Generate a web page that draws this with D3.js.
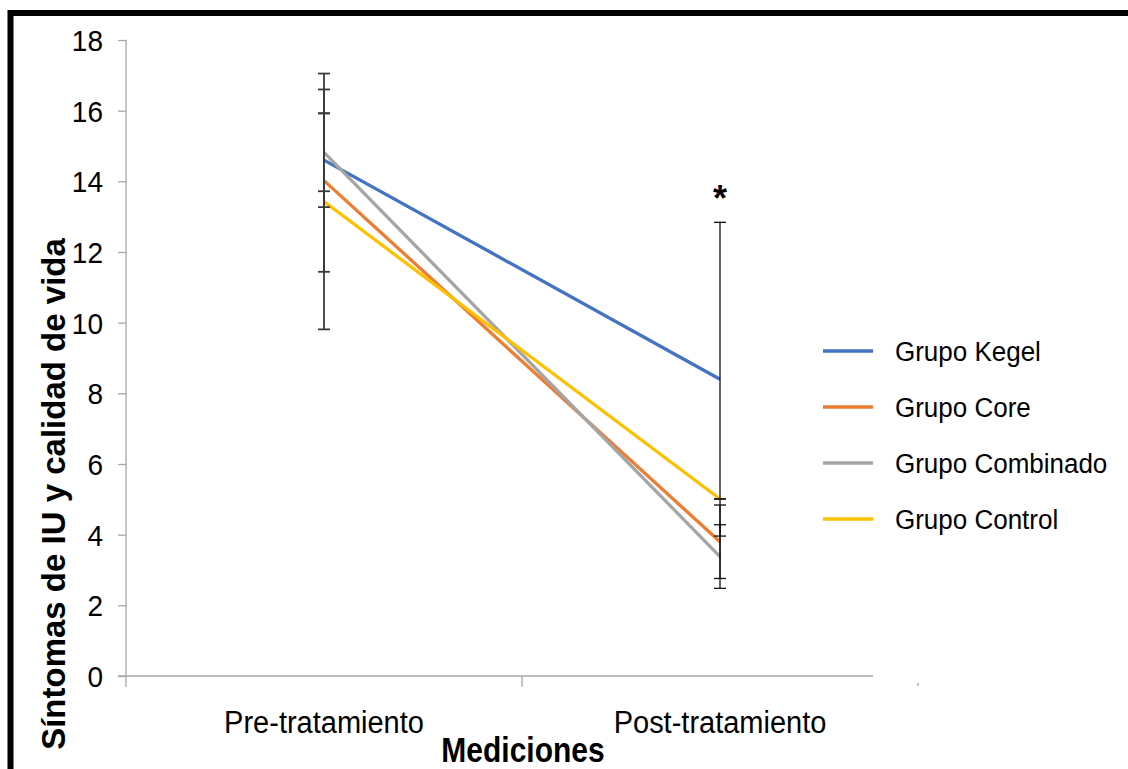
<!DOCTYPE html>
<html>
<head>
<meta charset="utf-8">
<script src="https://cdn.jsdelivr.net/npm/d3@7"></script>
<style>
  html, body { margin: 0; padding: 0; background: #fff; }
  svg { display: block; }
  text { font-family: "Liberation Sans", Arial, sans-serif; }
</style>
</head>
<body>
<svg id="chart" width="1128" height="769"></svg>
<script>
// Measurement moments (x categories)
const mediciones = ["Pre-tratamiento", "Post-tratamiento"];
// Groups and their line colours
const grupos = ["Grupo Kegel", "Grupo Core", "Grupo Combinado", "Grupo Control"];
const colores = ["#4472C4", "#ED7D31", "#A5A5A5", "#FFC000"];
// Mean scores per group: [pre, post]
const kegel = [14.6, 8.4];
const core = [14.02, 3.8];
const combinado = [14.82, 3.38];
const control = [13.43, 5.01];
// Standard deviations per group: [pre, post]
const sdKegel = [1.33, 4.44];
const sdCore = [2.58, 1.04];
const sdCombinado = [1.1, 0.9];
const sdControl = [3.62, 0];
// Y axis ticks
const yTicks = [0, 2, 4, 6, 8, 10, 12, 14, 16, 18];

const medias = [kegel, core, combinado, control];
const desv = [sdKegel, sdCore, sdCombinado, sdControl];

const svg = d3.select("#chart");

const x = d3.scaleBand().domain(mediciones).range([126, 918]).padding(0);
const y = d3.scaleLinear().domain([0, 18]).range([676, 40]);
const xc = d => x(d) + x.bandwidth() / 2;

// Y axis
const yAxis = svg.append("g")
  .attr("transform", "translate(126,0)")
  .call(d3.axisLeft(y).tickValues(yTicks).tickSize(8).tickPadding(15).tickFormat(d3.format("d")));
yAxis.select(".domain").attr("stroke", "#a6a6a6").attr("stroke-width", 1.3).attr("d", "M0,40V676");
yAxis.selectAll(".tick line").attr("stroke", "#a6a6a6").attr("stroke-width", 1.3);
yAxis.selectAll(".tick text")
  .attr("fill", "#000")
  .attr("x", null).attr("dy", null)
  .attr("transform", "translate(-23,10.5) scale(1,1.08)")
  .style("font-size", "28px")
  .style("font-family", "'Liberation Sans', Arial, sans-serif");

// X axis: baseline with ticks at category boundaries
const xAxis = svg.append("g").attr("transform", "translate(0,676)");
xAxis.append("line")
  .attr("x1", 118).attr("x2", 873).attr("y1", 0).attr("y2", 0)
  .attr("stroke", "#a6a6a6").attr("stroke-width", 1.3);
const bordes = mediciones.map(d => x(d)).concat([x.range()[1]]);
xAxis.selectAll("line.tick").data(bordes).join("line")
  .attr("class", "tick")
  .attr("x1", d => d).attr("x2", d => d)
  .attr("y1", (d, i) => i === bordes.length - 1 ? 7 : 0)
  .attr("y2", (d, i) => i === bordes.length - 1 ? 10 : 11)
  .attr("stroke", "#a6a6a6").attr("stroke-width", 1.3);
xAxis.selectAll("text.cat").data(mediciones).join("text")
  .attr("class", "cat")
  .attr("transform", d => `translate(${xc(d)},57) scale(1,1.05)`)
  .attr("text-anchor", "middle")
  .style("font-size", "29px")
  .text(d => d);

// Axis titles
svg.append("text")
  .attr("transform", "translate(523,762) scale(1,1.15)")
  .attr("text-anchor", "middle")
  .style("font-size", "30px").style("font-weight", "bold")
  .text("Mediciones");
svg.append("text")
  .attr("transform", "translate(65,494) rotate(-90)")
  .attr("text-anchor", "middle")
  .style("font-size", "33px").style("font-weight", "bold")
  .text("Síntomas de IU y calidad de vida");

// Series lines
const linea = d3.line().x((d, i) => xc(mediciones[i])).y(d => y(d));
svg.append("g").selectAll("path").data(medias).join("path")
  .attr("d", d => linea(d))
  .attr("fill", "none")
  .attr("stroke", (d, i) => colores[i])
  .attr("stroke-width", 3.3);

// Error bars (mean ± SD)
const barras = [];
medias.forEach((serie, g) => serie.forEach((m, i) => {
  barras.push({ cx: xc(mediciones[i]), lo: m - desv[g][i], hi: m + desv[g][i], i });
}));
const eb = svg.append("g");
eb.selectAll("line.v").data(barras).join("line")
  .attr("class", "v")
  .attr("x1", d => d.cx).attr("x2", d => d.cx)
  .attr("y1", d => y(d.lo)).attr("y2", d => y(d.hi))
  .attr("stroke", d => d.i === 0 ? "#3a3a3a" : "#111")
  .attr("stroke-width", d => d.i === 0 ? 1.8 : 1.3);
["lo", "hi"].forEach(k => {
  eb.selectAll("line.c" + k).data(barras).join("line")
    .attr("class", "c" + k)
    .attr("x1", d => d.cx - 6).attr("x2", d => d.cx + 6)
    .attr("y1", d => y(d[k])).attr("y2", d => y(d[k]))
    .attr("stroke", d => d.i === 0 ? "#3a3a3a" : "#111")
    .attr("stroke-width", d => d.i === 0 ? 1.8 : 1.3);
});

// Significance marker
svg.append("text")
  .attr("x", xc(mediciones[1])).attr("y", 211)
  .attr("text-anchor", "middle")
  .style("font-size", "36px").style("font-weight", "bold")
  .text("*");

// Legend
const leg = svg.append("g");
const filas = leg.selectAll("g").data(grupos).join("g")
  .attr("transform", (d, i) => `translate(823,${351 + i * 56})`);
filas.append("line")
  .attr("x1", 0).attr("x2", 50).attr("y1", 0).attr("y2", 0)
  .attr("stroke", (d, i) => colores[i]).attr("stroke-width", 3.3);
filas.append("text")
  .attr("transform", "translate(72,10) scale(1,1.07)")
  .style("font-size", "26px")
  .text(d => d);

// Outer frame
svg.append("path")
  .attr("d", "M10.5,769V13H1128")
  .attr("fill", "none")
  .attr("stroke", "#000")
  .attr("stroke-width", 6);
</script>
</body>
</html>
